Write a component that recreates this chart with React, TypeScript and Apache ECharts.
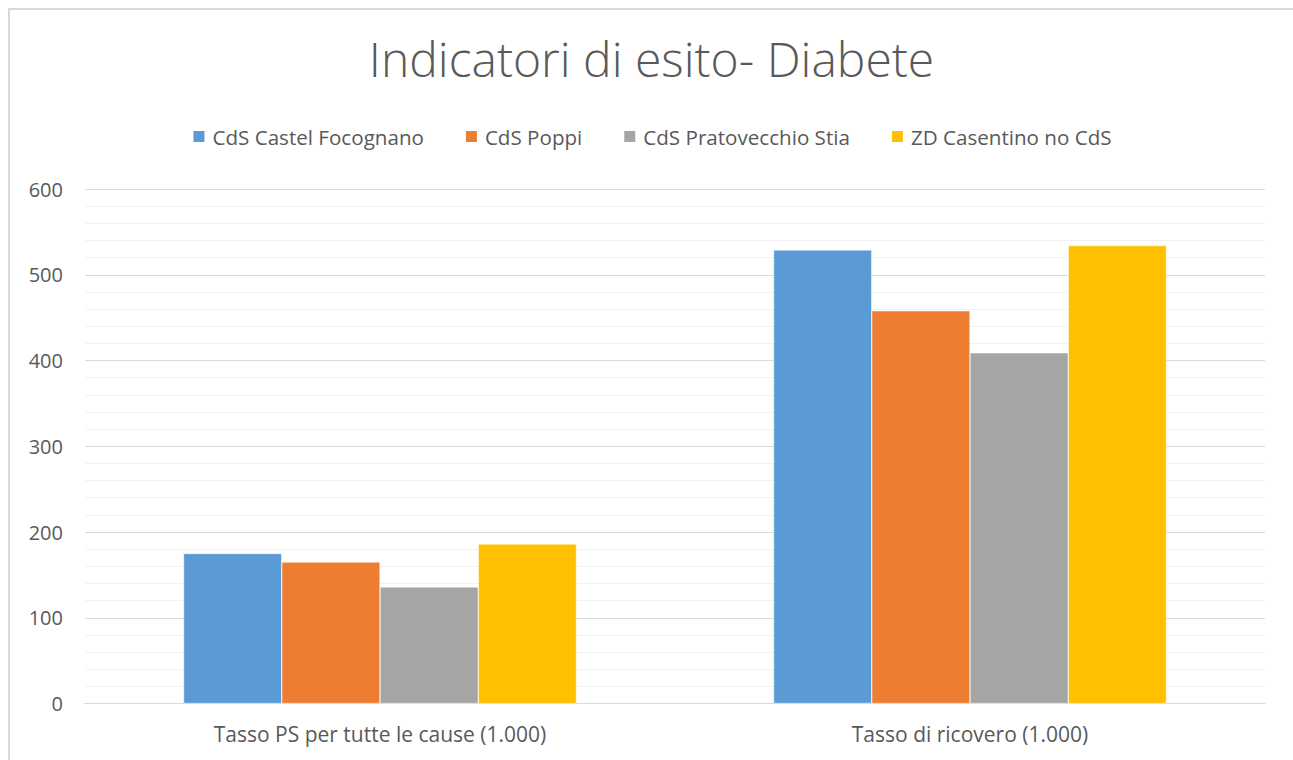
import React, { useEffect, useRef } from "react";
import * as echarts from "echarts";

const categories = ["Tasso PS per tutte le cause (1.000)", "Tasso di ricovero (1.000)"];
const seriesNames = ["CdS Castel Focognano", "CdS Poppi", "CdS Pratovecchio Stia", "ZD Casentino no CdS"];
const castelFocognano = [175, 529];
const poppi = [165, 458];
const pratovecchioStia = [136, 409];
const casentinoNoCdS = [186, 534];
const colors = ["#5B9BD5", "#ED7D31", "#A5A5A5", "#FFC000"];
const yTicks = { min: 0, max: 600, interval: 100 };

const FONT = "'Open Sans', 'Noto Sans', sans-serif";
const TEXT = "#595959";

export default function App() {
  const ref = useRef<HTMLDivElement>(null);
  useEffect(() => {
    if (!ref.current) return;
    const chart = echarts.init(ref.current, undefined, { renderer: "svg" });
    const values = [castelFocognano, poppi, pratovecchioStia, casentinoNoCdS];
    chart.setOption({
      animation: false,
      backgroundColor: "#ffffff",
      textStyle: { fontFamily: FONT, color: TEXT },
      title: {
        text: "Indicatori di esito- Diabete",
        left: "center",
        top: 19,
        textStyle: { fontFamily: FONT, fontSize: 48, fontWeight: 300, color: TEXT },
      },
      legend: {
        top: 111,
        left: "center",
        icon: "rect",
        itemWidth: 13,
        itemHeight: 13,
        itemGap: 40,
        textStyle: { fontFamily: FONT, fontSize: 20.6, color: TEXT, padding: [0, 0, 0, 2] },
        data: seriesNames,
      },
      grid: { left: 75, right: 28, top: 179, bottom: 56.5, containLabel: false },
      xAxis: {
        type: "category",
        data: categories,
        axisLine: { show: true, lineStyle: { color: "#d9d9d9", width: 1 } },
        axisTick: { show: false },
        axisLabel: { fontFamily: FONT, fontSize: 21, color: TEXT, margin: 20 },
      },
      yAxis: {
        type: "value",
        min: yTicks.min,
        max: yTicks.max,
        interval: yTicks.interval,
        axisLine: { show: false },
        axisTick: { show: false },
        axisLabel: { fontFamily: FONT, fontSize: 20, color: TEXT, margin: 22 },
        splitLine: { show: true, lineStyle: { color: "#d9d9d9", width: 1 } },
        minorTick: { show: false, splitNumber: 5 },
        minorSplitLine: { show: true, lineStyle: { color: "#f2f2f2", width: 1 } },
      },
      series: seriesNames.map((name, i) => ({
        name,
        type: "bar",
        data: values[i],
        barGap: "0%",
        barCategoryGap: "33.4%",
        itemStyle: { color: colors[i], borderColor: "#ffffff", borderWidth: 0.5 },
      })),
    });
    return () => chart.dispose();
  }, []);
  return (
    <div
      ref={ref}
      style={{
        position: "fixed",
        left: 8,
        top: 8,
        width: 1285,
        height: 752,
        borderLeft: "2px solid #d9d9d9",
        borderTop: "2px solid #d9d9d9",
        boxSizing: "border-box",
      }}
    />
  );
}
